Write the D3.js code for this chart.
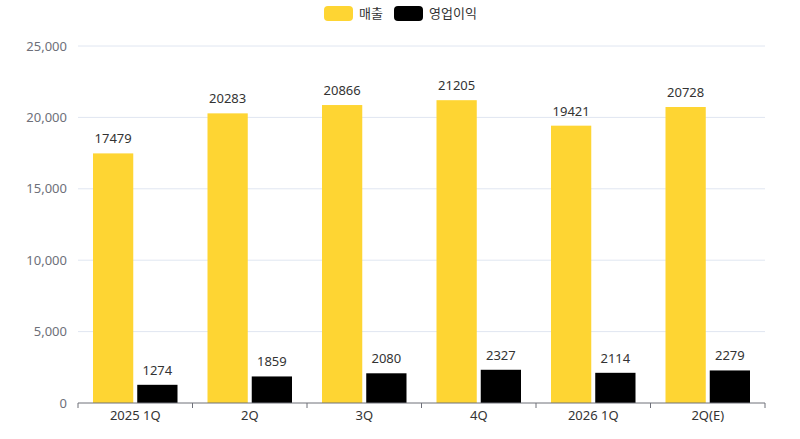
<!DOCTYPE html>
<html>
<head>
<meta charset="utf-8">
<script src="https://cdn.jsdelivr.net/npm/d3@7"></script>
<style>
  body { margin: 0; background: #fff; }
  text { font-family: "Noto Sans", "Noto Sans CJK KR", sans-serif; }
</style>
</head>
<body>
<div id="chart"></div>
<script>
// quarterly data
var quarters = ["2025 1Q", "2Q", "3Q", "4Q", "2026 1Q", "2Q(E)"];
var sales = [17479, 20283, 20866, 21205, 19421, 20728];
var profit = [1274, 1859, 2080, 2327, 2114, 2279];
var seriesNames = ["매출", "영업이익"];
var yTicks = [0, 5000, 10000, 15000, 20000, 25000];

var width = 800;
var height = 439;
var margin = {top: 46, right: 35, bottom: 36, left: 78};
var colors = ["#fed533", "#000000"];

var svg = d3.select("#chart")
  .append("svg")
  .attr("width", width)
  .attr("height", height);

var g = svg.append("g")
  .attr("transform", `translate(${margin.left},${margin.top})`);

var innerW = width - margin.left - margin.right;
var innerH = height - margin.top - margin.bottom;

var x0 = d3.scaleBand().domain(quarters).range([0, innerW]).paddingInner(0).paddingOuter(0);
var x1 = d3.scaleBand().domain(seriesNames).range([15, x0.bandwidth() - 15]).paddingInner(0.09);
var y = d3.scaleLinear().domain([0, 25000]).range([innerH, 0]);

// gridlines
g.selectAll(".grid")
  .data(yTicks.slice(1))
  .enter().append("line")
  .attr("x1", 0)
  .attr("x2", innerW)
  .attr("y1", d => y(d))
  .attr("y2", d => y(d))
  .style("stroke", "#e0e6f1")
  .style("stroke-width", 1);

// y labels
g.selectAll(".ylab")
  .data(yTicks)
  .enter().append("text")
  .attr("x", -11)
  .attr("y", d => y(d))
  .attr("dy", "0.35em")
  .attr("text-anchor", "end")
  .style("font-size", "13px")
  .style("fill", "#6e7079")
  .text(d => d3.format(",")(d));

var rows = quarters.map((q, i) => ({q: q, vals: [sales[i], profit[i]]}));

var group = g.selectAll(".quarter")
  .data(rows)
  .enter().append("g")
  .attr("transform", d => `translate(${x0(d.q)},0)`);

group.selectAll("rect")
  .data(d => d.vals.map((v, j) => ({name: seriesNames[j], v: v, j: j})))
  .enter().append("rect")
  .attr("x", d => x1(d.name))
  .attr("y", d => y(d.v))
  .attr("width", x1.bandwidth())
  .attr("height", d => innerH - y(d.v))
  .style("fill", d => colors[d.j]);

group.selectAll(".val")
  .data(d => d.vals.map((v, j) => ({name: seriesNames[j], v: v})))
  .enter().append("text")
  .attr("x", d => x1(d.name) + x1.bandwidth() / 2)
  .attr("y", d => y(d.v) - 10)
  .attr("text-anchor", "middle")
  .style("font-size", "13px")
  .style("fill", "#333")
  .text(d => d.v);

// x axis
var xAxis = g.append("g")
  .attr("transform", `translate(0,${innerH})`);
xAxis.append("line")
  .attr("x1", 0).attr("x2", innerW)
  .style("stroke", "#6e7079");
xAxis.selectAll(".tick")
  .data(quarters.concat(["end"]))
  .enter().append("line")
  .attr("x1", (d, i) => i * x0.bandwidth())
  .attr("x2", (d, i) => i * x0.bandwidth())
  .attr("y1", 0).attr("y2", 5)
  .style("stroke", "#6e7079");
xAxis.selectAll(".xlab")
  .data(quarters)
  .enter().append("text")
  .attr("x", d => x0(d) + x0.bandwidth() / 2)
  .attr("y", 17)
  .attr("text-anchor", "middle")
  .style("font-size", "13px")
  .style("fill", "#333")
  .text(d => d);

// legend
var legendX = [324, 394];
seriesNames.forEach((name, i) => {
  svg.append("rect")
    .attr("x", legendX[i]).attr("y", 6)
    .attr("width", 29).attr("height", 15)
    .attr("rx", 4)
    .style("fill", colors[i]);
  svg.append("text")
    .attr("x", legendX[i] + 35).attr("y", 13.5)
    .attr("dy", "0.35em")
    .style("font-size", "13px")
    .style("fill", "#333")
    .text(name);
});
</script>
</body>
</html>
